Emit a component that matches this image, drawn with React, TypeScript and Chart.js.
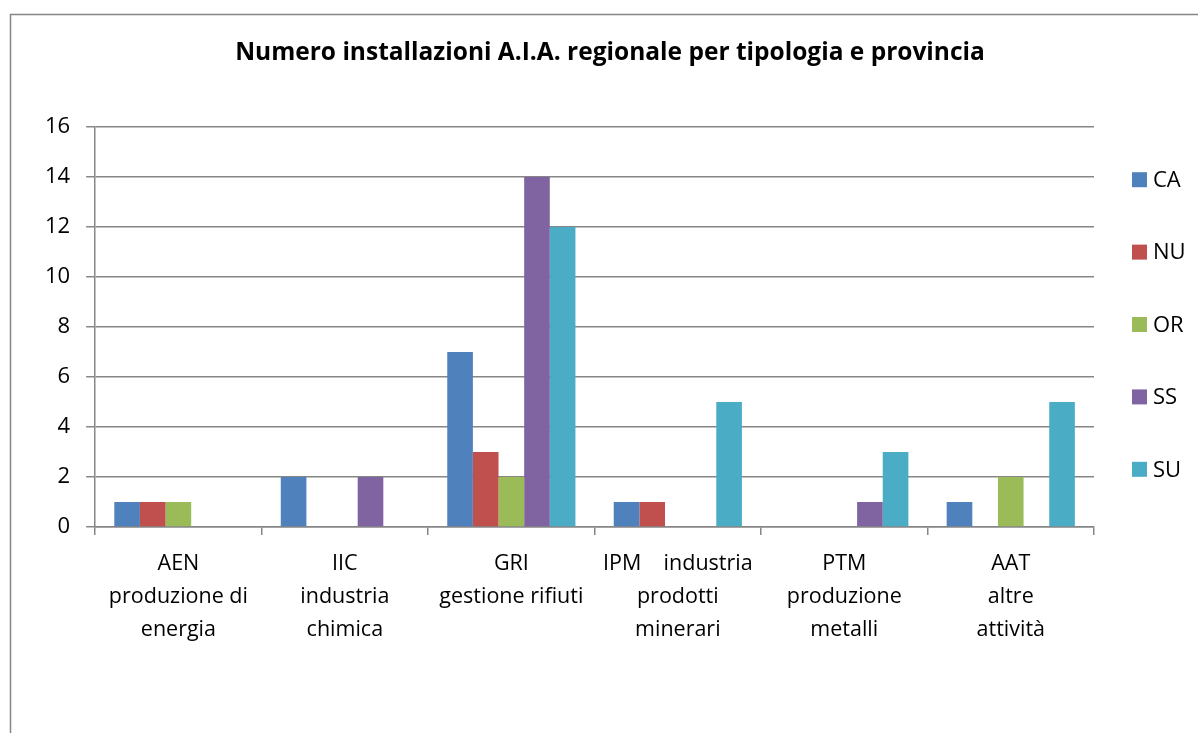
import React, { useEffect, useRef } from "react";
import { Chart, registerables } from "chart.js";

Chart.register(...registerables);

const categories: string[][] = [
  ["AEN", "produzione di", "energia"],
  ["IIC", "industria", "chimica"],
  ["GRI", "gestione rifiuti"],
  ["IPM    industria", "prodotti", "minerari"],
  ["PTM", "produzione", "metalli"],
  ["AAT", "altre", "attività"],
];

const seriesCA = [1, 2, 7, 1, 0, 1];
const seriesNU = [1, 0, 3, 1, 0, 0];
const seriesOR = [1, 0, 2, 0, 0, 2];
const seriesSS = [0, 2, 14, 0, 1, 0];
const seriesSU = [0, 0, 12, 5, 3, 5];

const seriesNames = ["CA", "NU", "OR", "SS", "SU"];
const seriesColors = ["#4F81BD", "#C0504D", "#9BBB59", "#8064A2", "#4BACC6"];

const titleText = "Numero installazioni A.I.A. regionale per tipologia e provincia";

const FONT = "'Open Sans', sans-serif";
const GRID = "#868686";

const frame = {
  id: "frame",
  beforeDraw(chart: any) {
    const ctx = chart.ctx;
    ctx.save();
    ctx.fillStyle = "#fff";
    ctx.fillRect(0, 0, chart.width, chart.height);
    ctx.strokeStyle = GRID;
    ctx.lineWidth = 1.5;
    ctx.strokeRect(10.5, 14.5, chart.width + 20, chart.height + 40);
    ctx.fillStyle = "#000";
    ctx.font = `bold 24.5px ${FONT}`;
    ctx.textAlign = "center";
    ctx.textBaseline = "middle";
    ctx.fillText(titleText, 610, 53);
    ctx.restore();
  },
};

const sideLegend = {
  id: "sideLegend",
  afterDraw(chart: any) {
    const ctx = chart.ctx;
    const area = chart.chartArea;
    const n = chart.data.datasets.length;
    const step = 72.4;
    const mid = (area.top + area.bottom) / 2 - 2.5;
    ctx.save();
    ctx.font = `22px ${FONT}`;
    ctx.textBaseline = "middle";
    ctx.textAlign = "left";
    chart.data.datasets.forEach((ds: any, i: number) => {
      const y = mid + (i - (n - 1) / 2) * step;
      ctx.fillStyle = ds.backgroundColor;
      ctx.fillRect(area.right + 38, y - 7.5, 15, 15);
      ctx.fillStyle = "#000";
      ctx.fillText(ds.label, area.right + 59, y + 1);
    });
    ctx.restore();
  },
};

export default function App() {
  const ref = useRef<HTMLCanvasElement | null>(null);
  useEffect(() => {
    document.body.style.margin = "0";
    const data = [seriesCA, seriesNU, seriesOR, seriesSS, seriesSU];
    const chart = new Chart(ref.current!, {
      type: "bar",
      data: {
        labels: categories,
        datasets: seriesNames.map((n, i) => ({
          label: n,
          data: data[i],
          backgroundColor: seriesColors[i],
          borderWidth: 0,
          categoryPercentage: 0.77,
          barPercentage: 1,
        })),
      },
      options: {
        animation: false,
        responsive: false,
        maintainAspectRatio: false,
        layout: { padding: { left: 29, right: 104, bottom: 74, top: 127 } },
        plugins: {
          title: { display: false },
          legend: { display: false },
          tooltip: { enabled: false },
        },
        scales: {
          x: {
            grid: {
              offset: true,
              drawOnChartArea: false,
              tickLength: 8,
              color: GRID,
              lineWidth: 1.5,
            },
            border: { color: GRID, width: 1.5 },
            ticks: {
              color: "#000",
              font: { family: FONT, size: 21.5, lineHeight: 1.55 },
              maxRotation: 0,
              autoSkip: false,
              padding: 12,
            },
          },
          y: {
            min: 0,
            max: 16,
            grid: { color: GRID, lineWidth: 1.5, tickLength: 9 },
            border: { color: GRID, width: 1.5 },
            ticks: {
              stepSize: 2,
              color: "#000",
              font: { family: FONT, size: 22 },
              padding: 16,
            },
          },
        },
      },
      plugins: [frame, sideLegend],
    });
    return () => chart.destroy();
  }, []);
  return <canvas ref={ref} width={1198} height={733} style={{ display: "block" }} />;
}
